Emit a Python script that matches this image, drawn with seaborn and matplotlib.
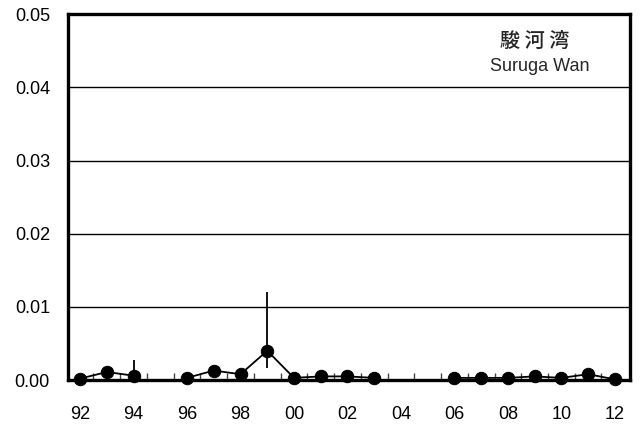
import numpy as np
import pandas as pd
import matplotlib
matplotlib.use("Agg")
import matplotlib.pyplot as plt
import seaborn as sns

# Annual means (survey years), with gaps where no survey was made
years = [1992, 1993, 1994, 1996, 1997, 1998, 1999, 2000, 2001, 2002, 2003,
         2006, 2007, 2008, 2009, 2010, 2011, 2012]
values = [0.0002, 0.0011, 0.0006, 0.0003, 0.0013, 0.0008, 0.0040, 0.0003, 0.0005,
          0.0005, 0.0003, 0.0003, 0.0003, 0.0003, 0.0005, 0.0003, 0.0008, 0.0001]
segment = [0, 0, 0, 1, 1, 1, 1, 1, 1, 1, 1, 2, 2, 2, 2, 2, 2, 2]

# Range bars (low, high) for the years that have them
err_years = [1994, 1999]
err_low = [0.0, 0.0016]
err_high = [0.0027, 0.0121]

y_ticks = [0.00, 0.01, 0.02, 0.03, 0.04, 0.05]
x_ticks = list(range(1992, 2013, 2))
x_labels = [f"{y % 100:02d}" for y in x_ticks]

df = pd.DataFrame({"year": years, "value": values, "segment": segment})

sns.set_theme(style="white")
plt.rcParams["font.family"] = ["Liberation Sans", "Noto Sans CJK JP", "DejaVu Sans"]

fig, ax = plt.subplots(figsize=(6.42, 4.28), dpi=100)
fig.subplots_adjust(left=0.106, right=0.981, top=0.967, bottom=0.112)

ax.vlines(err_years, err_low, err_high, color="black", lw=1.3, zorder=2)
sns.lineplot(data=df, x="year", y="value", units="segment", estimator=None,
             color="black", lw=1.3, ax=ax, legend=False, zorder=3)
sns.scatterplot(data=df, x="year", y="value", color="black", s=80,
                edgecolor="black", ax=ax, legend=False, zorder=4, clip_on=False)

ax.set_xlim(1991.55, 2012.56)
ax.set_ylim(0, 0.05)
ax.set_yticks(y_ticks)
ax.set_yticklabels([f"{v:.2f}" for v in y_ticks])
ax.set_xticks(x_ticks)
ax.set_xticklabels(x_labels)
ax.set_xticks(np.arange(1992.5, 2012, 1.0), minor=True)
ax.tick_params(axis="both", which="major", length=0, labelsize=13, colors="black")
ax.tick_params(axis="y", which="major", pad=13)
ax.tick_params(axis="x", which="major", pad=19)
ax.tick_params(axis="x", which="minor", direction="in", length=5, width=1,
               color="#444444", bottom=True)
ax.set_xlabel("")
ax.set_ylabel("")

for yv in y_ticks[1:-1]:
    ax.axhline(yv, color="black", lw=1.0, zorder=1)

for sp in ax.spines.values():
    sp.set_color("black")
    sp.set_linewidth(2.4)

ax.text(0.83, 0.926, "駿 河 湾", transform=ax.transAxes, ha="center", va="center",
        fontsize=14.5, fontweight="medium",
        family=["Noto Sans CJK JP", "DejaVu Sans"])
ax.text(0.839, 0.858, "Suruga Wan", transform=ax.transAxes, ha="center",
        va="center", fontsize=13)

fig.savefig("out.png", dpi=100, facecolor="white")
